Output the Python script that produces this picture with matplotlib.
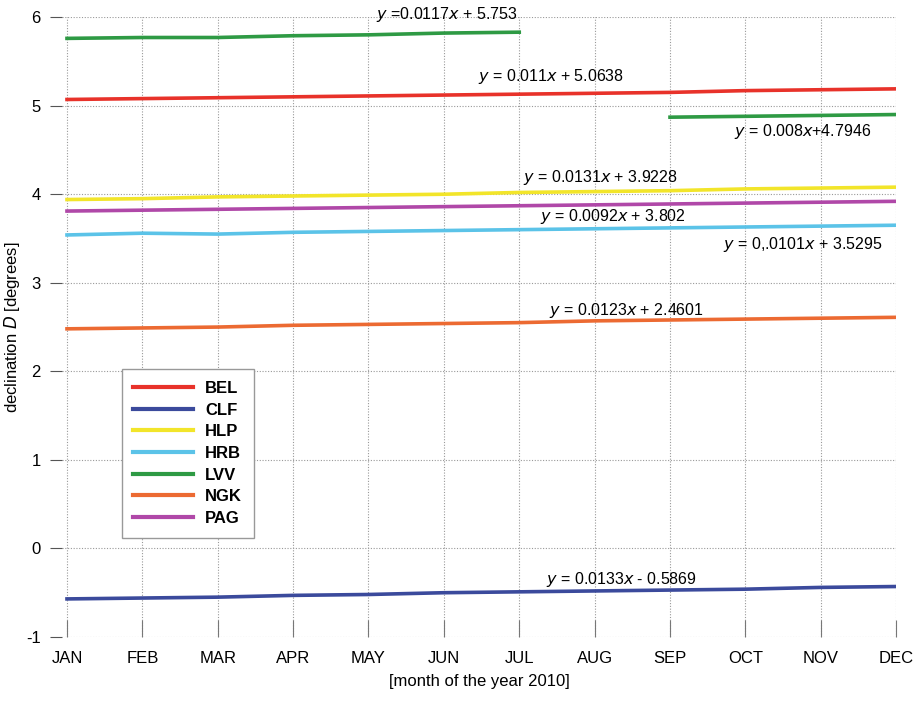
import numpy as np
import matplotlib.pyplot as plt

plt.rcParams['font.family'] = ['Liberation Sans', 'DejaVu Sans']
plt.rcParams['axes.unicode_minus'] = False

# months of 2010
months = ['JAN', 'FEB', 'MAR', 'APR', 'MAY', 'JUN', 'JUL', 'AUG', 'SEP', 'OCT', 'NOV', 'DEC']

# monthly declination values [degrees]
bel = [5.07, 5.08, 5.09, 5.10, 5.11, 5.12, 5.13, 5.14, 5.15, 5.17, 5.18, 5.19]
clf = [-0.57, -0.56, -0.55, -0.53, -0.52, -0.50, -0.49, -0.48, -0.47, -0.46, -0.44, -0.43]
hlp = [3.94, 3.95, 3.97, 3.98, 3.99, 4.00, 4.02, 4.03, 4.04, 4.06, 4.07, 4.08]
hrb = [3.54, 3.56, 3.55, 3.57, 3.58, 3.59, 3.60, 3.61, 3.62, 3.63, 3.64, 3.65]
lvv_a = [5.76, 5.77, 5.77, 5.79, 5.80, 5.82, 5.83]   # JAN-JUL
lvv_b = [4.87, 4.88, 4.89, 4.90]                     # SEP-DEC
ngk = [2.48, 2.49, 2.50, 2.52, 2.53, 2.54, 2.55, 2.57, 2.58, 2.59, 2.60, 2.61]
pag = [3.81, 3.82, 3.83, 3.84, 3.85, 3.86, 3.87, 3.88, 3.89, 3.90, 3.91, 3.92]

colors = {'BEL': '#e8322a', 'CLF': '#3b4a9c', 'HLP': '#f2e52a', 'HRB': '#5bc3e8',
          'LVV': '#2e9a44', 'NGK': '#ec6a32', 'PAG': '#b048a8'}

x = np.arange(12)

fig = plt.figure(figsize=(9.21, 7.02), dpi=100)
ax = fig.add_axes([0.067, 0.0926, 0.906, 0.883])

lw = 2.6
ax.plot(x, bel, color=colors['BEL'], lw=lw, label='BEL')
ax.plot(x, clf, color=colors['CLF'], lw=lw, label='CLF')
ax.plot(x, hlp, color=colors['HLP'], lw=lw, label='HLP')
ax.plot(x, hrb, color=colors['HRB'], lw=lw, label='HRB')
ax.plot(x[:7], lvv_a, color=colors['LVV'], lw=lw, label='LVV')
ax.plot(x[8:], lvv_b, color=colors['LVV'], lw=lw)
ax.plot(x, ngk, color=colors['NGK'], lw=lw, label='NGK')
ax.plot(x, pag, color=colors['PAG'], lw=lw, label='PAG')

# trend equations
fs = 11.5
ax.text(4.1, 6.03, r'$y$ =0.0117$x$ + 5.753', fontsize=fs, va='center')
ax.text(5.45, 5.33, r'$y$ = 0.011$x$ + 5.0638', fontsize=fs, va='center')
ax.text(8.85, 4.71, r'$y$ = 0.008$x$+4.7946', fontsize=fs, va='center')
ax.text(6.05, 4.19, r'$y$ = 0.0131$x$ + 3.9228', fontsize=fs, va='center')
ax.text(6.27, 3.75, r'$y$ = 0.0092$x$ + 3.802', fontsize=fs, va='center')
ax.text(8.7, 3.43, r'$y$ = 0,.0101$x$ + 3.5295', fontsize=fs, va='center')
ax.text(6.4, 2.69, r'$y$ = 0.0123$x$ + 2.4601', fontsize=fs, va='center')
ax.text(6.35, -0.35, r'$y$ = 0.0133$x$ - 0.5869', fontsize=fs, va='center')

ax.set_xlim(-0.07, 11)
ax.set_ylim(-1, 6)
ax.set_xticks(x)
ax.set_xticklabels(months, fontsize=12)
ax.set_yticks(range(-1, 7))
ax.tick_params(axis='y', direction='out', length=9, color='#555555', labelsize=12, pad=6)
ax.tick_params(axis='x', direction='in', length=12, color='#777777', labelsize=12, pad=10)
for s in ax.spines.values():
    s.set_visible(False)
ax.grid(True, linestyle=(0, (1, 1.5)), color='#999999', linewidth=0.8)

ax.set_ylabel(r'declination $D$ [degrees]', fontsize=12, labelpad=3)
ax.set_xlabel('[month of the year 2010]', fontsize=12, labelpad=6)

leg = ax.legend(loc='upper left', bbox_to_anchor=(0.072, 0.432),
                prop={'weight': 'bold', 'size': 12}, frameon=True, fancybox=False,
                edgecolor='#999999', framealpha=1, handlelength=3.6, handletextpad=0.7,
                labelspacing=0.4, borderpad=0.7, borderaxespad=0)
for h in leg.get_lines():
    h.set_linewidth(3)

fig.savefig('out.png', dpi=100)
